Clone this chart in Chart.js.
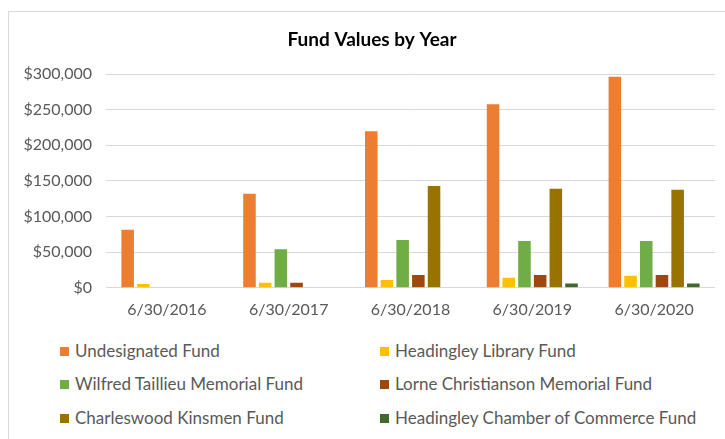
<!DOCTYPE html>
<html>
<head>
<meta charset="utf-8">
<script src="https://cdn.jsdelivr.net/npm/chart.js@4"></script>
<style>
  body { margin: 0; background: #fff; font-family: Lato, "Open Sans", sans-serif; overflow: hidden; }
  #frame { position: absolute; left: 8px; top: 11px; width: 740px; height: 440px; border: 1px solid #d9d9d9; }
  #wrap { position: absolute; left: 0; top: 0; width: 725px; height: 334px; }
  #legend { position: absolute; left: 0; top: 0; width: 725px; }
  .item { position: absolute; font-size: 17px; color: #595959; white-space: nowrap; line-height: 20px; }
  .item span.box { display: inline-block; width: 9px; height: 9px; margin-right: 6px; vertical-align: 1px; }
</style>
</head>
<body>
<div id="frame"></div>
<div id="wrap"><canvas id="fundChart"></canvas></div>
<div id="legend"></div>
<script>
const years = ["6/30/2016", "6/30/2017", "6/30/2018", "6/30/2019", "6/30/2020"];
const fundNames = [
    "Undesignated Fund",
    "Headingley Library Fund",
    "Wilfred Taillieu Memorial Fund",
    "Lorne Christianson Memorial Fund",
    "Charleswood Kinsmen Fund",
    "Headingley Chamber of Commerce Fund"
];
const undesignated = [81500, 132000, 219500, 257500, 296000];
const library = [5500, 7000, 11000, 14000, 17000];
const taillieu = [0, 54000, 67000, 65500, 65500];
const christianson = [0, 7000, 18000, 18000, 18000];
const kinsmen = [0, 0, 143000, 139000, 137500];
const chamber = [0, 0, 0, 6000, 6000];
const yTicks = [0, 50000, 100000, 150000, 200000, 250000, 300000];
const colors = ["#ED7D31", "#FFC000", "#70AD47", "#9E480E", "#997300", "#43682B"];

const seriesValues = [undesignated, library, taillieu, christianson, kinsmen, chamber];

const datasets = fundNames.map(function (name, i) {
    return {
        label: name,
        data: seriesValues[i],
        backgroundColor: colors[i],
        categoryPercentage: 0.773,
        barPercentage: 0.8
    };
});

const ctx = document.getElementById("fundChart").getContext("2d");

new Chart(ctx, {
    type: "bar",
    data: { labels: years, datasets: datasets },
    options: {
        responsive: true,
        maintainAspectRatio: false,
        animation: false,
        // extra left padding nudges the centred title right, like the original
        layout: { padding: { left: 29, right: 10, top: 0, bottom: 11 } },
        plugins: {
            legend: { display: false },
            tooltip: { enabled: false },
            title: {
                display: true,
                text: "Fund Values by Year",
                color: "#000",
                font: { family: "Lato", size: 19, weight: "bold", lineHeight: 1.2 },
                padding: { top: 28, bottom: 23.2 }
            }
        },
        scales: {
            x: {
                grid: { display: false },
                border: { display: false },
                ticks: {
                    color: "#595959",
                    font: { family: "Lato", size: 16 },
                    padding: 4,
                    maxRotation: 0
                }
            },
            y: {
                min: 0,
                max: 300000,
                afterBuildTicks: function (scale) {
                    scale.ticks = yTicks.map(v => ({ value: v }));
                },
                afterFit: function (scale) {
                    scale.width = 77;
                    // let the $ labels spill past the narrowed axis box
                    scale._computeLabelArea = function () { return undefined; };
                },
                grid: { color: "#d9d9d9", lineWidth: 1, drawTicks: false },
                border: { display: false },
                ticks: {
                    color: "#595959",
                    font: { family: "Lato", size: 16 },
                    padding: 14,
                    callback: v => "$" + v.toLocaleString("en-US")
                }
            }
        }
    }
});

// two-column legend under the plot
const legend = document.getElementById("legend");
const colX = [60, 380];
const rowY = [341, 374, 408];
fundNames.forEach(function (name, i) {
    const el = document.createElement("div");
    el.className = "item";
    el.style.left = colX[i % 2] + "px";
    el.style.top = rowY[Math.floor(i / 2)] + "px";
    el.innerHTML = '<span class="box" style="background:' + colors[i] + '"></span>' + name;
    legend.appendChild(el);
});
</script>
</body>
</html>
